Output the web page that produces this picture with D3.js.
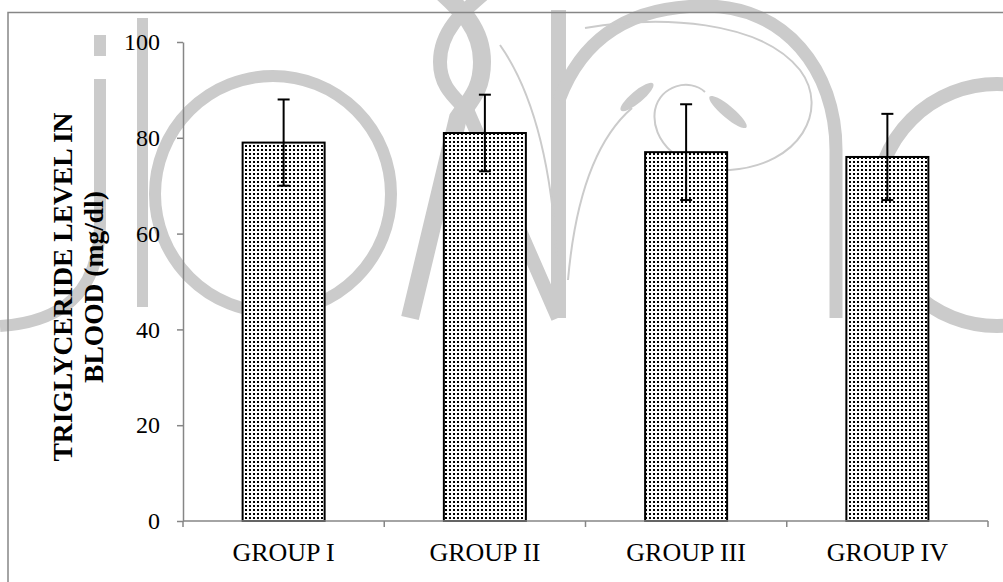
<!DOCTYPE html>
<html>
<head>
<meta charset="utf-8">
<script src="https://cdn.jsdelivr.net/npm/d3@7"></script>
<style>
  html, body { margin: 0; padding: 0; background: #fff; }
  svg { display: block; }
  text { font-family: "Liberation Serif", "Times New Roman", serif; fill: #000; }
</style>
</head>
<body>
<svg id="chart" width="1003" height="582"></svg>
<script>
// Triglyceride level per group (mean ± SD, mg/dl)
const groups = ["GROUP I", "GROUP II", "GROUP III", "GROUP IV"];
const means = [79, 81, 77, 76];
const sds = [9, 8, 10, 9];
const yTicks = [0, 20, 40, 60, 80, 100];
const yTitleLines = ["TRIGLYCERIDE LEVEL IN", "BLOOD (mg/dl)"];

const W = 1003, H = 582;
const plot = { left: 183, right: 988, top: 42, bottom: 521 };
const axisGray = "#868686";

const svg = d3.select("#chart");

// dotted fill used by the bars
const defs = svg.append("defs");
const pat = defs.append("pattern")
  .attr("id", "dots").attr("patternUnits", "userSpaceOnUse")
  .attr("width", 4).attr("height", 4);
pat.append("rect").attr("width", 4).attr("height", 4).attr("fill", "#fff");
pat.append("rect").attr("x", 1).attr("y", 1).attr("width", 2).attr("height", 2).attr("fill", "#000");

// light grey logo in the background
const wm = svg.append("g").attr("fill", "none").attr("stroke", "#cbcbcb");
wm.append("rect").attr("x", 94).attr("y", 35).attr("width", 12).attr("height", 21).attr("fill", "#cbcbcb").attr("stroke", "none");
wm.append("path").attr("d", "M100,79 V222 C100,292 62,322 0,326").attr("stroke-width", 12);
wm.append("rect").attr("x", 137).attr("y", 18).attr("width", 11).attr("height", 289).attr("fill", "#cbcbcb").attr("stroke", "none");
wm.append("circle").attr("cx", 273).attr("cy", 194).attr("r", 118).attr("stroke-width", 12);
wm.append("path").attr("d", "M494,-15 C472,5 440,25 440,62 C440,88 456,98 468,112 L558,318").attr("stroke-width", 14);
wm.append("path").attr("d", "M434,-15 C456,5 482,25 482,62 C482,90 470,100 458,118 L410,318").attr("stroke-width", 18);
wm.append("rect").attr("x", 551).attr("y", 10).attr("width", 15).attr("height", 308).attr("fill", "#cbcbcb").attr("stroke", "none");
wm.append("path").attr("d", "M559,100 C585,30 640,6 705,6 C785,6 836,70 836,150 V318").attr("stroke-width", 13);
wm.append("circle").attr("cx", 997).attr("cy", 205).attr("r", 121).attr("stroke-width", 14);
const thin = wm.append("g").attr("stroke-width", 2);
thin.append("path").attr("d", "M500,45 C535,95 552,170 557,260");
thin.append("path").attr("d", "M632,108 C595,140 575,200 568,280");
thin.append("path").attr("d", "M585,28 C660,15 760,20 800,70 C830,110 800,165 730,170 C680,172 650,140 655,110 C660,85 690,78 705,92");
wm.append("ellipse").attr("cx", 637).attr("cy", 97).attr("rx", 21).attr("ry", 6)
  .attr("transform", "rotate(-40 637 97)").attr("fill", "#cbcbcb").attr("stroke", "none");
wm.append("ellipse").attr("cx", 728).attr("cy", 112).attr("rx", 24).attr("ry", 6)
  .attr("transform", "rotate(40 728 112)").attr("fill", "#cbcbcb").attr("stroke", "none");

// outer chart border (continues past the right and bottom edges)
svg.append("path")
  .attr("d", `M8,${H + 10} V12.5 H${W + 10}`)
  .attr("fill", "none").attr("stroke", axisGray).attr("stroke-width", 1.5);

// scales
const x = d3.scaleBand().domain(groups)
  .range([plot.left, plot.right])
  .paddingInner(0.5925).paddingOuter(0.5925 / 2);
const y = d3.scaleLinear().domain([0, 100]).range([plot.bottom, plot.top]);

// y axis
const yAxis = svg.append("g")
  .attr("transform", `translate(${plot.left},0)`)
  .call(d3.axisLeft(y).tickValues(yTicks).tickSize(6).tickSizeOuter(0).tickPadding(17));
yAxis.select(".domain").attr("stroke", axisGray).attr("stroke-width", 1.5);
yAxis.selectAll(".tick line").attr("stroke", axisGray).attr("stroke-width", 1.5);
yAxis.selectAll(".tick text")
  .attr("font-family", "Liberation Serif, Times New Roman, serif")
  .attr("font-size", 24).attr("fill", "#000");

// bars
svg.append("g").selectAll("rect")
  .data(groups)
  .join("rect")
  .attr("x", d => x(d))
  .attr("y", (d, i) => y(means[i]))
  .attr("width", x.bandwidth())
  .attr("height", (d, i) => y(0) - y(means[i]))
  .attr("fill", "url(#dots)")
  .attr("stroke", "#000").attr("stroke-width", 2);

// x axis line with ticks between categories
const xAxis = svg.append("g");
xAxis.append("line")
  .attr("x1", plot.left).attr("x2", plot.right)
  .attr("y1", y(0)).attr("y2", y(0))
  .attr("stroke", axisGray).attr("stroke-width", 1.5);
xAxis.selectAll("line.bound")
  .data(d3.range(groups.length + 1))
  .join("line").attr("class", "bound")
  .attr("x1", i => plot.left + i * x.step())
  .attr("x2", i => plot.left + i * x.step())
  .attr("y1", y(0)).attr("y2", y(0) + 6)
  .attr("stroke", axisGray).attr("stroke-width", 1.5);
xAxis.selectAll("text")
  .data(groups)
  .join("text")
  .attr("x", d => x(d) + x.bandwidth() / 2)
  .attr("y", y(0) + 40)
  .attr("text-anchor", "middle")
  .attr("font-size", 26)
  .text(d => d);

// error bars (mean ± SD)
const eb = svg.append("g").attr("stroke", "#000").attr("stroke-width", 2);
groups.forEach((g, i) => {
  const cx = x(g) + x.bandwidth() / 2;
  const hi = y(means[i] + sds[i]), lo = y(means[i] - sds[i]);
  eb.append("line").attr("x1", cx).attr("x2", cx).attr("y1", hi).attr("y2", lo);
  eb.append("line").attr("x1", cx - 6).attr("x2", cx + 6).attr("y1", hi).attr("y2", hi);
  eb.append("line").attr("x1", cx - 6).attr("x2", cx + 6).attr("y1", lo).attr("y2", lo);
});

// y axis title, two lines
const title = svg.append("text")
  .attr("transform", `translate(72,287) rotate(-90)`)
  .attr("text-anchor", "middle")
  .attr("font-weight", "bold")
  .attr("font-size", 27.5);
title.selectAll("tspan")
  .data(yTitleLines)
  .join("tspan")
  .attr("x", 0)
  .attr("y", (d, i) => i * 31)
  .text(d => d);
</script>
</body>
</html>
